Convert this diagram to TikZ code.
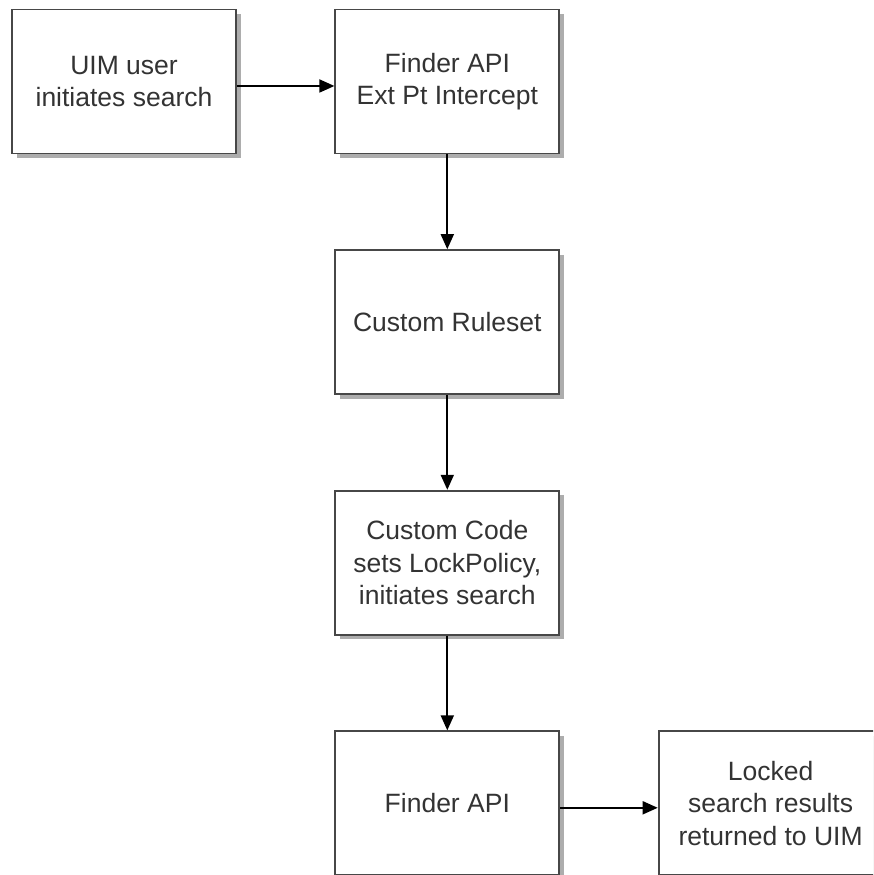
\documentclass[tikz,border=0pt]{standalone}
\usepackage{fontspec}
\setmainfont{Liberation Sans}
\usetikzlibrary{arrows.meta,positioning,shadows}

\begin{document}
\begin{tikzpicture}[
    box/.style={draw=black!72,line width=1.8pt,fill=white,
      minimum width=224pt,minimum height=144pt,align=center,
      text=black!80,font=\fontsize{26.5}{32.5}\selectfont,
      drop shadow={shadow xshift=4.5pt,shadow yshift=-4.5pt,fill=black!32,opacity=1}},
    flow/.style={line width=1.8pt,-{Triangle[length=15pt,width=13pt]}},
    node distance=94.8pt and 97.5pt
  ]
  \useasboundingbox (0,0) rectangle (873pt,875pt);
  \clip (0,0) rectangle (873pt,875pt);
  \node[box] (user) at (124pt,793.5pt) {UIM user\\initiates search};
  \node[box,right=of user] (intercept) {Finder API\\Ext Pt Intercept};
  \node[box,below=of intercept] (ruleset) {Custom Ruleset};
  \node[box,below=of ruleset] (code) {Custom Code\\sets LockPolicy,\\initiates search};
  \node[box,below=of code] (finder) {Finder API};
  \node[box,right=of finder] (results) {Locked\\search results\\returned to UIM};
  % senkrechte Pfeile
  \foreach \from/\to in {intercept/ruleset,ruleset/code,code/finder}
    \draw[flow] (\from) -- (\to);
  \draw[flow] ([yshift=-4.5pt]user.east) -- ([yshift=-4.5pt]intercept.west);
  \draw[flow] ([yshift=-4.5pt]finder.east) -- ([yshift=-4.5pt]results.west);
\end{tikzpicture}
\end{document}
